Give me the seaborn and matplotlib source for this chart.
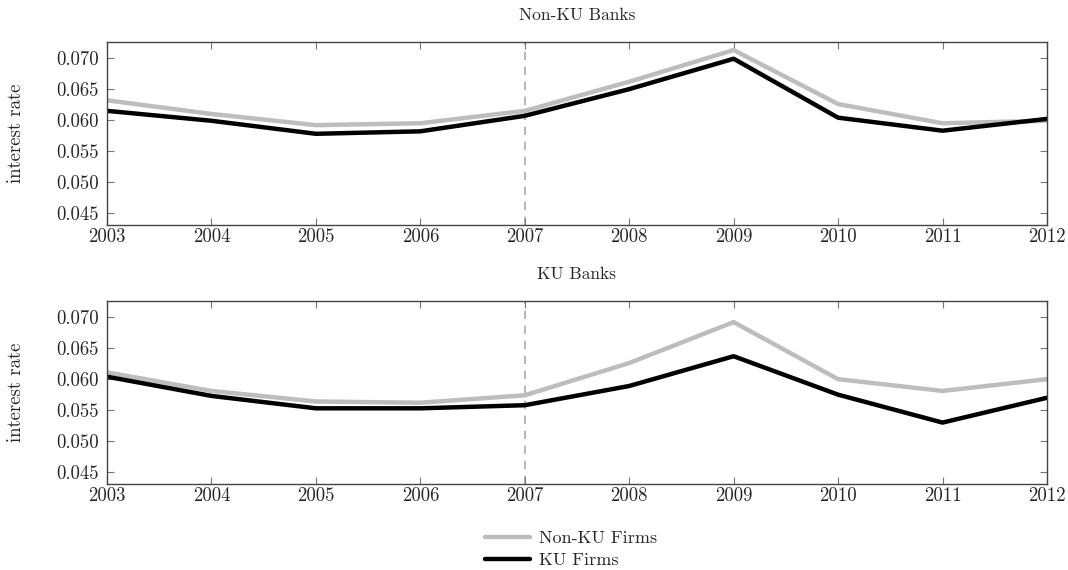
import matplotlib
matplotlib.use("Agg")
import matplotlib.pyplot as plt
import seaborn as sns
import pandas as pd
from matplotlib.lines import Line2D

years = [2003, 2004, 2005, 2006, 2007, 2008, 2009, 2010, 2011, 2012]

nonku_banks_nonku_firms = [0.0632, 0.0610, 0.0592, 0.0595, 0.0615, 0.0662, 0.0713, 0.0626, 0.0595, 0.0599]
nonku_banks_ku_firms = [0.0615, 0.0599, 0.0578, 0.0582, 0.0607, 0.0650, 0.0699, 0.0604, 0.0583, 0.0602]
ku_banks_nonku_firms = [0.0611, 0.0581, 0.0564, 0.0562, 0.0574, 0.0626, 0.0692, 0.0600, 0.0581, 0.0600]
ku_banks_ku_firms = [0.0604, 0.0573, 0.0553, 0.0553, 0.0558, 0.0589, 0.0637, 0.0575, 0.0530, 0.0570]

series_names = ["Non-KU Firms", "KU Firms"]
panel_titles = ["Non-KU Banks", "KU Banks"]
yticks = [0.045, 0.050, 0.055, 0.060, 0.065, 0.070]
event_year = 2007

sns.set_theme(style="white")
plt.rcParams["font.family"] = ["cmr10", "DejaVu Serif"]
plt.rcParams["axes.formatter.use_mathtext"] = True

colors = {"Non-KU Firms": "#bdbdbd", "KU Firms": "#000000"}

fig = plt.figure(figsize=(10.68, 5.70), dpi=100)
ax1 = fig.add_axes([0.1002, 0.6053, 0.8801, 0.3210])
ax2 = fig.add_axes([0.1002, 0.1509, 0.8801, 0.3210])

panels = [
    (ax1, panel_titles[0], nonku_banks_nonku_firms, nonku_banks_ku_firms),
    (ax2, panel_titles[1], ku_banks_nonku_firms, ku_banks_ku_firms),
]

for ax, title, g, k in panels:
    df = pd.DataFrame({
        "year": years * 2,
        "rate": g + k,
        "group": [series_names[0]] * len(years) + [series_names[1]] * len(years),
    })
    sns.lineplot(data=df, x="year", y="rate", hue="group", palette=colors,
                 hue_order=series_names, linewidth=3.2, ax=ax, legend=False)
    ax.axvline(event_year, color="#aaaaaa", linestyle=(0, (5, 4)), linewidth=1.2, zorder=0)
    ax.set_xlim(years[0], years[-1])
    ax.set_ylim(0.0431, 0.0726)
    ax.set_xticks(years)
    ax.set_xticklabels([str(y) for y in years])
    ax.set_yticks(yticks)
    ax.set_yticklabels([f"{v:.3f}" for v in yticks])
    ax.set_xlabel("")
    ax.set_ylabel("interest rate", fontsize=13.5, labelpad=22)
    ax.set_title(title, fontsize=12.5, pad=16)
    ax.tick_params(axis="both", direction="in", length=5, width=0.8, color="#777777",
                   labelsize=13.5, top=True, right=True, bottom=True, left=True, pad=6)
    ax.tick_params(axis="x", pad=2)
    for s in ax.spines.values():
        s.set_color("#444444")
        s.set_linewidth(1.0)

handles = [Line2D([0], [0], color=colors[n], linewidth=3.2) for n in series_names]
fig.legend(handles, series_names, loc="center", bbox_to_anchor=(0.535, 0.036),
           ncol=1, frameon=False, fontsize=13, handlelength=2.5, labelspacing=0.35,
           handletextpad=0.5)

fig.savefig("out.png", dpi=100)
